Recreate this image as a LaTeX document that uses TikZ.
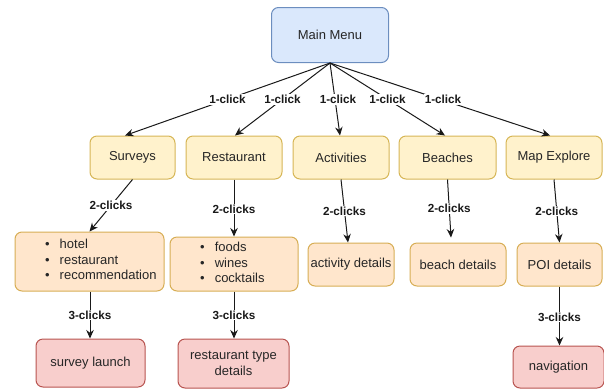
\documentclass[tikz,border=0pt]{standalone}
\usepackage{fontspec}
\setmainfont{Liberation Sans}
\usetikzlibrary{arrows.meta}
\definecolor{blueF}{HTML}{DAE8FC}
\definecolor{blueS}{HTML}{6C8EBF}
\definecolor{yelF}{HTML}{FFF2CC}
\definecolor{yelS}{HTML}{D6B656}
\definecolor{orF}{HTML}{FFE6CC}
\definecolor{orS}{HTML}{D7AE55}
\definecolor{redF}{HTML}{F8CECC}
\definecolor{redS}{HTML}{B85450}
\definecolor{txt}{HTML}{262626}
\begin{document}
\begin{tikzpicture}[x=1pt,y=-1pt,
  box/.style={draw, rounded corners=7pt, line width=1pt, inner sep=0pt, align=center,
    font=\fontsize{13}{15.5}\selectfont, text=txt},
  bluebox/.style={box, fill=blueF, draw=blueS},
  yelbox/.style={box, fill=yelF, draw=yelS, minimum height=43pt},
  orbox/.style={box, fill=orF, draw=orS},
  redbox/.style={box, fill=redF, draw=redS},
  conn/.style={draw=black!90, line width=1pt, -{Stealth[length=8.5pt,width=7.5pt]}},
  lbl/.style={fill=white, inner sep=1pt, font=\fontsize{11.7}{13}\selectfont\bfseries, text=black!90},
  listtxt/.style={inner sep=0pt, align=left, anchor=north west,
    font=\fontsize{13}{15.5}\selectfont, text=txt},
]
\useasboundingbox (0,0) rectangle (604,389);

% level 1
\node[bluebox, minimum width=117pt, minimum height=55pt] (main) at (330,35) {Main Menu};

% level 2
\node[yelbox, minimum width=85pt] (surveys) at (132.5,157.5) {Surveys};
\node[yelbox, minimum width=96pt] (rest) at (234,157.5) {Restaurant};
\node[yelbox, minimum width=96pt] (act) at (341,157.5) {Activities};
\node[yelbox, minimum width=97pt] (beach) at (447.5,157.5) {Beaches};
\node[yelbox, minimum width=96pt] (map) at (554,157.5) {Map Explore};

% level 3
\node[orbox, minimum width=149pt, minimum height=59pt] (slist) at (89.5,261.5) {};
\node[listtxt] (slistt) at (45,239) {\textbullet\hspace{10pt}hotel\\ \textbullet\hspace{10pt}restaurant\\ \textbullet\hspace{10pt}recommendation};
\node[orbox, minimum width=128pt, minimum height=54pt] (rlist) at (234,264) {};
\node[listtxt] (rlistt) at (200,242) {\textbullet\hspace{10pt}foods\\ \textbullet\hspace{10pt}wines\\ \textbullet\hspace{10pt}cocktails};
\node[orbox, minimum width=86pt, minimum height=43pt] (actd) at (351,264.5) {activity details};
\node[orbox, minimum width=96pt, minimum height=43pt] (beachd) at (458,264.5) {beach details};
\node[orbox, minimum width=85pt, minimum height=43pt] (poid) at (559.5,264.5) {POI details};

% level 4
\node[redbox, minimum width=109pt, minimum height=48pt] (slaunch) at (90.5,363) {survey launch};
\node[redbox, minimum width=111pt, minimum height=49pt] (rtype) at (233.5,363.5) {restaurant type\\details};
\node[redbox, minimum width=91pt, minimum height=42pt] (nav) at (558.5,367) {navigation};

% connectors level 1
\draw[conn] (main.south) -- ([xshift=-7.5pt]surveys.north) node[midway, lbl] {1-click};
\draw[conn] (main.south) -- ([xshift=1pt]rest.north) node[midway, lbl] {1-click};
\draw[conn] (main.south) -- ([xshift=-1pt]act.north) node[pos=0.5, lbl, xshift=3pt] {1-click};
\draw[conn] (main.south) -- ([xshift=-2.5pt]beach.north) node[midway, lbl] {1-click};
\draw[conn] (main.south) -- ([xshift=-4pt]map.north) node[midway, lbl, xshift=3pt] {1-click};

% connectors level 2
\draw[conn] (surveys.south) -- (slist.north) node[midway, lbl] {2-clicks};
\draw[conn] (rest.south) -- (rlist.north) node[pos=0.52, lbl] {2-clicks};
\draw[conn] (act.south) -- ([xshift=-3pt]actd.north) node[midway, lbl] {2-clicks};
\draw[conn] (beach.south) -- ([xshift=-7pt,yshift=5pt]beachd.north) node[midway, lbl] {2-clicks};
\draw[conn] (map.south) -- (poid.north) node[midway, lbl] {2-clicks};

% connectors level 3
\draw[conn] ([xshift=0.5pt]slist.south) -- ([xshift=-0.5pt]slaunch.north) node[midway, lbl] {3-clicks};
\draw[conn] (rlist.south) -- ([xshift=0.5pt]rtype.north) node[midway, lbl] {3-clicks};
\draw[conn] (poid.south) -- ([xshift=1pt]nav.north) node[pos=0.52, lbl] {3-clicks};
\end{tikzpicture}
\end{document}
